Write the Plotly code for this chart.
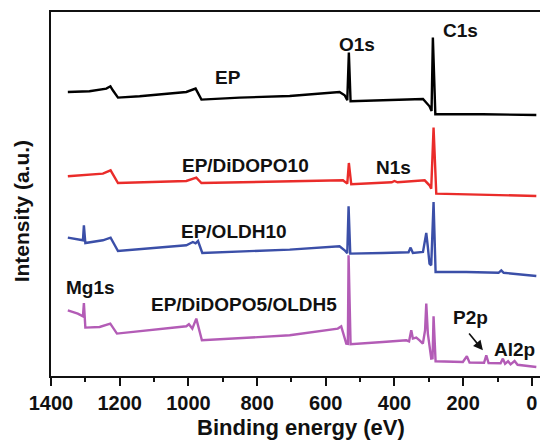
import plotly.graph_objects as go

# Binding energy (eV) and intensity (a.u.)
ep_be = [1351, 1288, 1239, 1227, 1220, 1205, 1142, 1006, 979, 962, 851, 705, 560, 545, 537.4, 532.8, 527.8, 434, 317, 298, 292, 288.2, 281, 143, -13]
ep_i = [284.0, 284.7, 287.4, 289.7, 285.7, 278.4, 279.7, 284.0, 287.4, 276.4, 278.4, 280.0, 284.0, 280.7, 275.7, 323.4, 274.7, 275.7, 277.0, 269.7, 265.0, 338.4, 261.7, 261.7, 261.0]

didopo_be = [1351, 1249, 1226.5, 1205, 1006, 977, 962, 705, 550, 537.4, 532.8, 525.8, 408, 400, 391, 312, 298, 293, 286.2, 278.3, -13]
didopo_i = [199.7, 202.4, 205.7, 193.0, 195.0, 198.4, 193.0, 195.0, 195.7, 192.4, 213.0, 191.7, 193.7, 195.0, 193.7, 195.7, 190.7, 187.4, 248.4, 182.4, 180.0]

oldh_be = [1351, 1317, 1307, 1304.2, 1300, 1249, 1226.5, 1205, 1006, 987, 979, 972, 959.5, 705, 560, 545, 537.4, 533.6, 528.7, 434, 359, 353, 346.4, 317, 311, 307.4, 302.8, 298, 293, 286.2, 280.3, 191, 97, 89, 82, -13]
oldh_i = [138.4, 136.4, 135.7, 150.7, 133.0, 135.7, 138.4, 125.0, 130.7, 134.0, 132.7, 135.0, 123.0, 126.4, 129.7, 125.7, 122.7, 169.7, 122.4, 123.0, 123.7, 128.4, 123.0, 124.0, 135.7, 143.0, 129.0, 112.4, 110.7, 174.0, 104.0, 104.0, 103.2, 105.7, 103.2, 100.0]

mix_be = [1351, 1322, 1307, 1304.2, 1300, 1258.5, 1227.4, 1208, 1006, 998.5, 988.6, 977, 960.7, 705, 565, 555, 540.3, 535.7, 533.6, 527.8, 434, 365.6, 357.5, 351.1, 346.4, 336.5, 326.9, 317.3, 310.9, 307.4, 302.8, 292.9, 289.1, 286.2, 280.3, 200.9, 189.2, 181.4, 139.2, 132.7, 126.1, 91.1, 84.4, 78.0, 69.3, 62.0, 50.4, 41.6, -13]
mix_i = [65.7, 62.4, 59.7, 73.0, 48.4, 49.0, 52.4, 42.4, 49.7, 51.7, 47.4, 57.4, 35.7, 40.7, 47.4, 49.7, 32.4, 32.2, 120.7, 31.7, 34.0, 35.7, 34.7, 45.7, 37.4, 38.4, 35.7, 32.4, 45.7, 72.4, 42.4, 17.4, 17.7, 59.7, 14.7, 14.0, 19.7, 13.4, 13.2, 20.7, 13.0, 12.7, 17.4, 12.2, 14.7, 11.7, 15.0, 11.2, 9.0]

series_names = ["EP", "EP/DiDOPO10", "EP/OLDH10", "EP/DiDOPO5/OLDH5"]
series_colors = ["#000000", "#ea2c2a", "#3b4fa8", "#b35cb6"]

x_tick_vals = [1400, 1200, 1000, 800, 600, 400, 200, 0]

# Text labels: (text, binding energy, intensity)
labels = [
    ("EP", 886, 298.2),
    ("O1s", 509, 331.7),
    ("C1s", 207.6, 345.2),
    ("EP/DiDOPO10", 833.5, 210.7),
    ("N1s", 402.6, 209.0),
    ("EP/OLDH10", 867, 144.2),
    ("Mg1s", 1284.7, 89.0),
    ("EP/DiDOPO5/OLDH5", 839.3, 71.7),
    ("P2p", 178.5, 59.0),
    ("Al2p", 50.4, 26.7),
]
arrow_tail = (186.3, 44.0)
arrow_head = (142.6, 25.7)

FONT = "Liberation Sans, Arial, sans-serif"

fig = go.Figure()
for xs, ys, name, col in zip([ep_be, didopo_be, oldh_be, mix_be],
                             [ep_i, didopo_i, oldh_i, mix_i],
                             series_names, series_colors):
    fig.add_trace(go.Scatter(x=xs, y=ys, mode="lines", name=name,
                             line=dict(color=col, width=2.4), showlegend=False))

annotations = []
for text, bx, iy in labels:
    annotations.append(dict(x=bx, y=iy, xref="x", yref="y", text=text, showarrow=False,
                            font=dict(family=FONT, size=19, color="#111", weight="bold")))
annotations.append(dict(x=arrow_head[0], y=arrow_head[1], ax=arrow_tail[0], ay=arrow_tail[1],
                        xref="x", yref="y", axref="x", ayref="y", text="", showarrow=True,
                        arrowhead=2, arrowsize=1.2, arrowwidth=1.6, arrowcolor="#111"))
annotations.append(dict(x=-0.06, y=0.453, xref="paper", yref="paper", text="Intensity (a.u.)",
                        textangle=-90, showarrow=False, xanchor="center", yanchor="middle",
                        font=dict(family=FONT, size=21, color="#111", weight="bold")))
annotations.append(dict(x=0.5025, y=-0.142, xref="paper", yref="paper", text="Binding energy (eV)",
                        showarrow=False, xanchor="center", yanchor="middle",
                        font=dict(family=FONT, size=22, color="#111", weight="bold")))

# page body has an 8px default margin, so the figure is 8px smaller on each axis
fig.update_layout(
    width=540, height=432,
    margin=dict(l=43, r=0, t=4, b=64),
    paper_bgcolor="white", plot_bgcolor="white",
    annotations=annotations,
    xaxis=dict(range=[1400, -47], tickvals=x_tick_vals, ticks="outside", ticklen=8, tickwidth=2,
               tickcolor="#111", showline=True, linewidth=2, linecolor="#111", mirror=True,
               showgrid=False, zeroline=False,
               tickfont=dict(family=FONT, size=20, color="#111", weight="bold"),
               minor=dict(dtick=100, ticks="outside", ticklen=4, tickwidth=2, tickcolor="#111", showgrid=False)),
    yaxis=dict(range=[0, 364], showticklabels=False, ticks="", showline=True, linewidth=2,
               linecolor="#111", mirror=False, showgrid=False, zeroline=False),
)

fig.write_html("out.html")
